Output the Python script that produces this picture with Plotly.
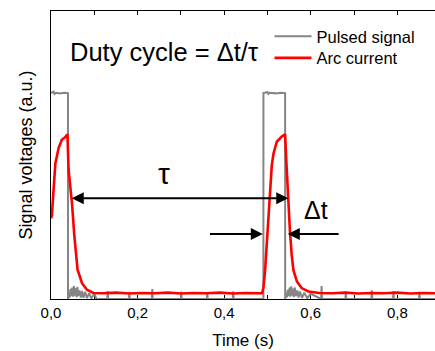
import plotly.graph_objects as go

# ---- data ----
pulse_t = [0.000, 0.006, 0.008, 0.012, 0.020, 0.030, 0.0392, 0.0393,
           0.041, 0.043, 0.045, 0.047, 0.049, 0.051, 0.053, 0.055, 0.057, 0.059,
           0.061, 0.063, 0.066, 0.069, 0.072, 0.075, 0.079, 0.083, 0.088, 0.093,
           0.100, 0.105, 0.130, 0.131, 0.132, 0.180, 0.181, 0.182, 0.233, 0.234,
           0.235, 0.300, 0.301, 0.302, 0.360, 0.361, 0.362, 0.420, 0.421, 0.422,
           0.4906, 0.4907, 0.500, 0.502, 0.504, 0.520, 0.530, 0.5408, 0.5409,
           0.543, 0.545, 0.547, 0.549, 0.551, 0.553, 0.555, 0.557, 0.559, 0.561,
           0.563, 0.566, 0.569, 0.572, 0.575, 0.580, 0.585, 0.592, 0.600, 0.624,
           0.625, 0.626, 0.680, 0.681, 0.682, 0.740, 0.741, 0.742, 0.790, 0.791,
           0.792, 0.850, 0.851, 0.852, 0.887]
pulse_v = [0.715, 0.720, 0.712, 0.716, 0.714, 0.716, 0.715, 0.000,
           0.020, 0.005, 0.035, 0.010, 0.040, 0.008, 0.045, 0.012, 0.038, 0.006,
           0.042, 0.010, 0.030, 0.005, 0.028, 0.004, 0.025, 0.003, 0.020, 0.002,
           0.018, 0.000, 0.000, 0.028, 0.000, 0.000, 0.025, 0.000, 0.000, 0.035,
           0.000, 0.000, 0.026, 0.000, 0.000, 0.024, 0.000, 0.000, 0.027, 0.000,
           0.000, 0.715, 0.718, 0.712, 0.716, 0.714, 0.716, 0.715, 0.000,
           0.020, 0.006, 0.032, 0.010, 0.040, 0.008, 0.044, 0.012, 0.036, 0.006,
           0.040, 0.010, 0.030, 0.005, 0.026, 0.004, 0.022, 0.003, 0.018, 0.000,
           0.045, 0.000, 0.000, 0.026, 0.000, 0.000, 0.030, 0.000, 0.000, 0.028,
           0.000, 0.000, 0.025, 0.000, 0.000]

arc_t = [0.000, 0.002, 0.010, 0.0175, 0.025, 0.033, 0.038, 0.0406, 0.0485,
         0.054, 0.0614, 0.0716, 0.083, 0.098, 0.120, 0.150, 0.180, 0.210,
         0.240, 0.270, 0.300, 0.330, 0.360, 0.390, 0.420, 0.450, 0.4877,
         0.4907, 0.4946, 0.502, 0.510, 0.514, 0.5216, 0.533, 0.5408, 0.543,
         0.5447, 0.548, 0.552, 0.556, 0.560, 0.568, 0.579, 0.5946, 0.620,
         0.650, 0.680, 0.710, 0.740, 0.770, 0.800, 0.830, 0.860, 0.887]
arc_v = [0.280, 0.290, 0.470, 0.524, 0.553, 0.562, 0.572, 0.448, 0.332,
         0.217, 0.102, 0.055, 0.032, 0.021, 0.020, 0.022, 0.019, 0.021,
         0.020, 0.022, 0.019, 0.021, 0.020, 0.022, 0.019, 0.021, 0.020,
         0.040, 0.100, 0.292, 0.465, 0.505, 0.546, 0.564, 0.572, 0.495,
         0.440, 0.349, 0.234, 0.153, 0.100, 0.061, 0.038, 0.026, 0.021,
         0.020, 0.022, 0.019, 0.021, 0.020, 0.022, 0.019, 0.021, 0.020]

x_ticks = [0.0, 0.2, 0.4, 0.6, 0.8]
x_tick_labels = ["0,0", "0,2", "0,4", "0,6", "0,8"]

FONT = "Liberation Sans, Arial, sans-serif"

fig = go.Figure()
fig.add_trace(go.Scatter(x=pulse_t, y=pulse_v, mode="lines", name="Pulsed signal",
                         line=dict(color="#858585", width=2), legend="legend"))
fig.add_trace(go.Scatter(x=arc_t, y=arc_v, mode="lines", name="Arc current",
                         line=dict(color="#ff0000", width=2.6), legend="legend2"))

ann = []
ann.append(dict(text="Duty cycle = \u0394t/\u03c4", xref="paper", yref="paper",
                x=0.043, y=0.856, xanchor="left", yanchor="middle", showarrow=False,
                font=dict(size=25.5, color="black", family=FONT)))
ann.append(dict(text="\u03c4", xref="x", yref="y", x=0.262, y=0.435,
                xanchor="center", yanchor="middle", showarrow=False,
                font=dict(size=30, color="black", family=FONT)))
ann.append(dict(text="\u0394t", xref="x", yref="y", x=0.612, y=0.31,
                xanchor="center", yanchor="middle", showarrow=False,
                font=dict(size=25, color="black", family=FONT)))
# tau double arrow
ann.append(dict(text="", x=0.548, y=0.35, ax=0.0445, ay=0.35, xref="x", yref="y",
                axref="x", ayref="y", showarrow=True, arrowhead=2, arrowsize=1.2,
                startarrowhead=2, startarrowsize=1.2, arrowside="end+start",
                arrowwidth=2, arrowcolor="black", standoff=0, startstandoff=0))
# delta t arrows
ann.append(dict(text="", x=0.4893, y=0.2255, ax=0.3638, ay=0.2255, xref="x", yref="y",
                axref="x", ayref="y", showarrow=True, arrowhead=2, arrowsize=1.2,
                arrowwidth=2, arrowcolor="black", standoff=0))
ann.append(dict(text="", x=0.547, y=0.2255, ax=0.6677, ay=0.2255, xref="x", yref="y",
                axref="x", ayref="y", showarrow=True, arrowhead=2, arrowsize=1.2,
                arrowwidth=2, arrowcolor="black", standoff=0))

leg_common = dict(xanchor="left", yanchor="top", bgcolor="rgba(0,0,0,0)",
                  font=dict(size=16.5, color="black", family=FONT), itemwidth=37)

fig.update_layout(
    width=435, height=351,
    margin=dict(l=51, r=0, t=11, b=52, pad=0),
    paper_bgcolor="white", plot_bgcolor="white",
    font=dict(family=FONT, color="black"),
    showlegend=True,
    legend=dict(x=0.569, y=0.972, **leg_common),
    legend2=dict(x=0.569, y=0.897, **leg_common),
    annotations=ann,
    xaxis=dict(range=[0, 0.887], tickvals=x_ticks, ticktext=x_tick_labels,
               ticks="inside", ticklen=4, tickcolor="black", showline=True,
               linecolor="black", linewidth=1, mirror="ticks", showgrid=False,
               zeroline=False, layer="below traces",
               minor=dict(dtick=0.1, tick0=0, ticks="inside", ticklen=4, tickcolor="black"),
               tickfont=dict(size=15, family=FONT, color="black"),
               title=dict(text="Time (s)", font=dict(size=17, family=FONT, color="black"),
                          standoff=14)),
    yaxis=dict(range=[0, 1], showticklabels=False, ticks="", showline=True,
               linecolor="black", linewidth=1, showgrid=False, zeroline=False,
               layer="below traces",
               title=dict(text="Signal voltages (a.u.)",
                          font=dict(size=18, family=FONT, color="black"), standoff=12)),
)

fig.write_html("out.html")
